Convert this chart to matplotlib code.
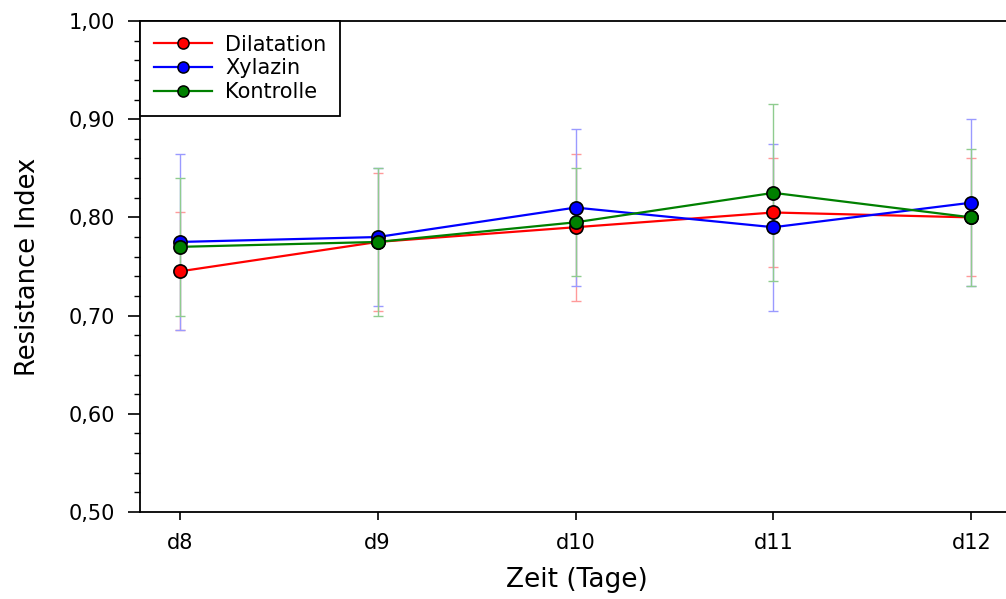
import matplotlib
matplotlib.use("Agg")
import matplotlib.pyplot as plt
from matplotlib.ticker import MultipleLocator, FuncFormatter

plt.rcParams['font.family'] = ['DejaVu Sans']

days = ["d8", "d9", "d10", "d11", "d12"]
dilatation = [0.745, 0.775, 0.790, 0.805, 0.800]
dilatation_err = [0.060, 0.070, 0.075, 0.055, 0.060]
xylazin = [0.775, 0.780, 0.810, 0.790, 0.815]
xylazin_err = [0.090, 0.070, 0.080, 0.085, 0.085]
kontrolle = [0.770, 0.775, 0.795, 0.825, 0.800]
kontrolle_err = [0.070, 0.075, 0.055, 0.090, 0.070]

fig = plt.figure(figsize=(10.06, 5.99), dpi=100)
ax = fig.add_axes([140/1006, 87/599, 871/1006, 491/599])

x = list(range(len(days)))
series = [("Dilatation", dilatation, dilatation_err, "#ff0000", "#ff9a9a"),
          ("Xylazin", xylazin, xylazin_err, "#0000ff", "#9a9aff"),
          ("Kontrolle", kontrolle, kontrolle_err, "#008000", "#8fcc8f")]

for name, vals, errs, col, ecol in series:
    ax.errorbar(x, vals, yerr=errs, fmt='none', ecolor=ecol,
                elinewidth=1.0, capsize=3.5, capthick=1.0, zorder=2)
for name, vals, errs, col, ecol in series:
    ax.plot(x, vals, '-', color=col, lw=1.6, zorder=3)
for name, vals, errs, col, ecol in series:
    ax.plot(x, vals, 'o', color=col, markersize=9.5,
            markerfacecolor=col, markeredgecolor='black', markeredgewidth=1.2,
            zorder=4)

handles = []
for name, vals, errs, col, ecol in series:
    h, = ax.plot([], [], '-o', color=col, lw=1.6, markersize=8,
                 markerfacecolor=col, markeredgecolor='black',
                 markeredgewidth=1.1, label=name)
    handles.append(h)

ax.set_xlim(-0.2, 4.2)
ax.set_ylim(0.5, 1.0)
ax.set_xticks(x)
ax.set_xticklabels(days)
ax.yaxis.set_major_locator(MultipleLocator(0.1))
ax.yaxis.set_minor_locator(MultipleLocator(0.02))
ax.yaxis.set_major_formatter(FuncFormatter(lambda v, p: f"{v:.2f}".replace('.', ',')))
ax.tick_params(axis='y', which='major', direction='out', length=9, width=1.2,
               labelsize=15, pad=9)
ax.tick_params(axis='x', which='major', direction='out', length=6, width=1.2,
               labelsize=15, pad=9)
ax.tick_params(axis='y', which='minor', direction='out', length=4, width=1)
for s in ax.spines.values():
    s.set_linewidth(1.3)

ax.set_ylabel("Resistance Index", fontsize=18.5)
ax.yaxis.set_label_coords(-112/871, 0.5)
ax.set_xlabel("Zeit (Tage)", fontsize=19)
ax.xaxis.set_label_coords((577-140)/871, -(580-512)/491)
ax.xaxis.label.set_va('center')
ax.yaxis.label.set_va('center')

leg = ax.legend(handles=handles, loc='upper left', bbox_to_anchor=(0, 1),
                borderaxespad=0, fontsize=15, frameon=True, fancybox=False,
                edgecolor='black', handlelength=2.8, labelspacing=0.18,
                borderpad=0.65, handletextpad=0.65)
leg.get_frame().set_linewidth(1.3)
leg.get_frame().set_alpha(1)

fig.savefig("out.png", dpi=100)
